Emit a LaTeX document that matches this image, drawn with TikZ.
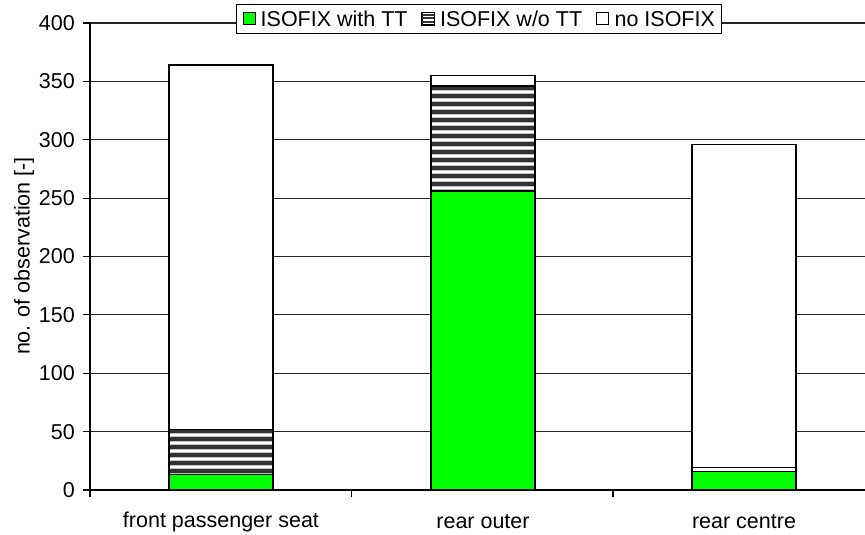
\documentclass[tikz,border=0pt]{standalone}
\usepackage{fontspec}
\setmainfont{Liberation Sans}
\pgfdeclarelayer{background}
\pgfdeclarelayer{bottom}
\pgfsetlayers{bottom,background,main}
\definecolor{barg}{RGB}{0,255,0}
\definecolor{hdark}{RGB}{51,51,51}
\tikzset{
  gridline/.style={draw=black!85, line width=1.1pt},
  axisline/.style={draw=black, line width=1.1pt},
  barbox/.style={draw=black, line width=1.3pt},
  ticklab/.style={anchor=east, inner sep=0pt},
  catlab/.style={inner sep=0pt},
  legsq/.style={draw=black, line width=1pt, minimum size=12pt, inner sep=0pt},
  legtxt/.style={anchor=west, inner sep=0pt},
}
\newcommand{\Yv}[1]{490-1.1675*#1}
\newcommand{\hatchseg}[4]{%
  \begin{scope}
    \fill[white] (#1,{\Yv{#4}}) rectangle (#2,{\Yv{#3}});
    \clip (#1,{\Yv{#4}}) rectangle (#2,{\Yv{#3}});
    \pgfmathsetmacro\yt{\Yv{#4}}
    \pgfmathsetmacro\yb{\Yv{#3}}
    \pgfmathtruncatemacro\nstr{(\yb-\yt)/8}
    \foreach \k in {0,...,\nstr} {
      \draw[gray!50, line width=6pt] (#1,{\yt+2+8*\k}) -- (#2,{\yt+2+8*\k});
      \draw[hdark, line width=3.6pt] (#1,{\yt+2+8*\k}) -- (#2,{\yt+2+8*\k});
    }
  \end{scope}
  \draw[barbox] (#1,{\Yv{#4}}) rectangle (#2,{\Yv{#3}});
}
\begin{document}
\begin{tikzpicture}[x=1pt,y=-1pt, font=\fontsize{21.5}{25}\selectfont]
\useasboundingbox (0,0) rectangle (865,535);
\begin{pgfonlayer}{bottom}
\fill[white] (0,0) rectangle (865,535);
\end{pgfonlayer}

% grid lines
\begin{pgfonlayer}{background}
\foreach \v in {50,100,...,400} {
  \draw[gridline] (90,{\Yv{\v}}) -- (865,{\Yv{\v}});
}
\end{pgfonlayer}

% axes
\draw[axisline] (90,23) -- (90,497);
\draw[axisline] (90,490) -- (865,490);
\foreach \v in {0,50,...,400} {
  \draw[axisline] (83,{\Yv{\v}}) -- (90,{\Yv{\v}});
  \node[ticklab] (yl\v) at (75,{\Yv{\v}}) {\v};
}
\foreach \xx in {351.5,613} {
  \draw[axisline] (\xx,490) -- (\xx,497);
}

% bars: front passenger seat
\fill[barg] (169,{\Yv{0}}) rectangle (273,{\Yv{13}});
\draw[barbox] (169,{\Yv{0}}) rectangle (273,{\Yv{13}});
\hatchseg{169}{273}{13}{52}
\draw[barbox, fill=white] (169,{\Yv{52}}) rectangle (273,{\Yv{364}});

% rear outer
\fill[barg] (431,{\Yv{0}}) rectangle (535,{\Yv{256}});
\draw[barbox] (431,{\Yv{0}}) rectangle (535,{\Yv{256}});
\hatchseg{431}{535}{256}{346}
\draw[barbox, fill=white] (431,{\Yv{346}}) rectangle (535,{\Yv{355}});

% rear centre
\fill[barg] (692,{\Yv{0}}) rectangle (796,{\Yv{16}});
\draw[barbox] (692,{\Yv{0}}) rectangle (796,{\Yv{16}});
\draw[barbox, fill=white] (692,{\Yv{16}}) rectangle (796,{\Yv{19}});
\draw[barbox, fill=white] (692,{\Yv{19}}) rectangle (796,{\Yv{296}});

% category labels
\node[catlab] (c1) at (221,522) {front passenger seat};
\node[catlab] (c2) at (483,522) {rear outer};
\node[catlab] (c3) at (744,522) {rear centre};

% axis title
\node[rotate=90, inner sep=0pt] (ytitle) at (24,256) {no. of observation [-]};

% legend
\node[legsq, fill=barg] (s1) at (249,19) {};
\node[legtxt] (t1) at ([xshift=5pt]s1.east) {ISOFIX with TT};
\node[legsq, fill=white, anchor=west] (s2) at ([xshift=14pt]t1.east) {};
\foreach \dy in {2.5,6,9.5} {
  \draw[hdark, line width=2pt] ([yshift=-\dy pt]s2.north west) -- ([yshift=-\dy pt]s2.north east);
}
\draw[line width=1pt] (s2.north west) rectangle (s2.south east);
\node[legtxt] (t2) at ([xshift=5pt]s2.east) {ISOFIX w/o TT};
\node[legsq, fill=white, anchor=west] (s3) at ([xshift=14pt]t2.east) {};
\node[legtxt] (t3) at ([xshift=5pt]s3.east) {no ISOFIX};
\coordinate (lb1) at ([xshift=-6pt]s1.west);
\coordinate (lb2) at ([xshift=6pt]t3.east);
\begin{pgfonlayer}{background}
\draw[fill=white, line width=1pt] (lb1 |- 0,5) rectangle (lb2 |- 0,34);
\end{pgfonlayer}
\end{tikzpicture}
\end{document}
